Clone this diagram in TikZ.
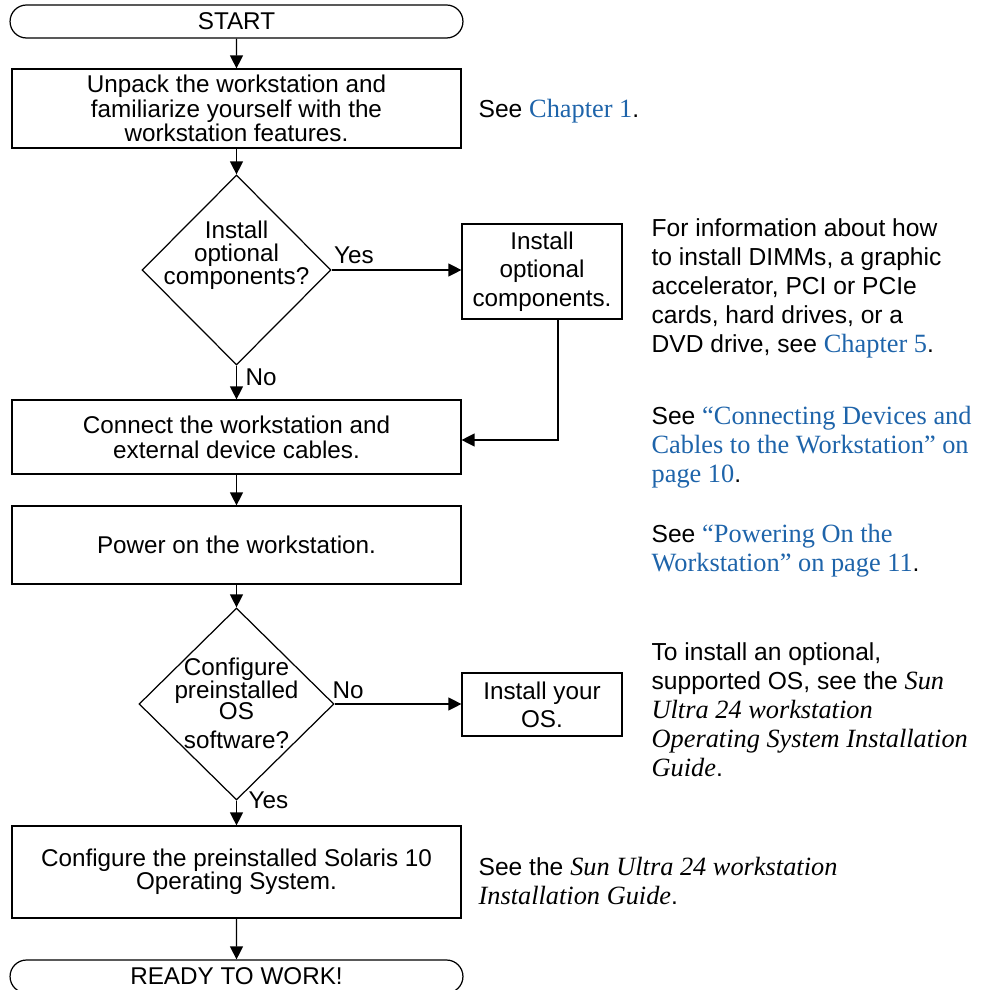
\documentclass[tikz,border=0pt]{standalone}
\usepackage{fontspec}
\setmainfont{Liberation Sans}
\newfontfamily\bookfont{Liberation Serif}
\usetikzlibrary{shapes.geometric,shapes.misc,arrows.meta}
\definecolor{linkblue}{RGB}{30,100,170}
\newcommand{\lnk}[1]{{\bookfont\fontsize{15}{16.5}\selectfont\color{linkblue}#1}}
\newcommand{\bk}[1]{{\bookfont\itshape\fontsize{15}{16.5}\selectfont #1}}
\begin{document}
\begin{tikzpicture}[x=0.02cm, y=-0.02cm, line width=0.7pt,
	>={Triangle[length=0.26cm,width=0.26cm]},
	every node/.style={inner sep=0pt, font=\fontsize{13.8}{13}\selectfont},
	term/.style={draw, rounded rectangle, minimum width=9.06cm, minimum height=0.66cm},
	stepbox/.style={draw, align=center, minimum width=8.98cm},
	sidebox/.style={draw, align=center, minimum width=3.2cm},
	quest/.style={draw, diamond},
	note/.style={align=left, anchor=base west, font=\fontsize{14}{16.5}\selectfont}]
	\useasboundingbox (0,0) rectangle (986,990);
	\node[term] (start) at (236.5,21.5) {START};
	\node[stepbox, minimum height=1.58cm, font=\fontsize{13.8}{12.2}\selectfont] (unpack) at (236.5,108.5) {Unpack the workstation and\\familiarize yourself with the\\workstation features.};
	\node[quest, minimum width=3.78cm, minimum height=3.8cm] (q1) at (236.5,270) {};
	\node[align=center] (q1txt) at (236.5,255) {Install\\optional\\components?};
	\node[sidebox, minimum height=1.9cm, font=\fontsize{13.8}{16.2}\selectfont] (opt) at (542,271.5) {Install\\optional\\components.};
	\node[stepbox, minimum height=1.48cm, font=\fontsize{13.8}{14.2}\selectfont] (cable) at (236.5,437) {Connect the workstation and\\external device cables.};
	\node[stepbox, minimum height=1.56cm] (power) at (236.5,545) {Power on the workstation.};
	\node[quest, minimum width=3.9cm, minimum height=3.84cm] (q2) at (236.5,704) {};
	\node[align=center] (q2txt) at (236.5,703.5) {Configure\\preinstalled\\[-1.2pt]OS\\[3.4pt]software?};
	\node[sidebox, minimum height=1.26cm, font=\fontsize{13.8}{16}\selectfont] (os) at (542,704.5) {Install your\\OS.};
	\node[stepbox, minimum height=1.84cm] (solaris) at (236.5,872) {Configure the preinstalled Solaris 10\\Operating System.};
	\node[term] (ready) at (236.5,976.5) {READY TO WORK!};
	\node (yes1) at (354,255) {Yes};
	\node[anchor=west] (no1) at (245,377) {No};
	\node (no2) at (348,690) {No};
	\node[anchor=west] (yes2) at (248,800) {Yes};
	\coordinate (back) at (558,440);
	\draw[->] (start) -- (unpack);
	\draw[->] (unpack) -- (q1);
	\draw[->] (q1.east) -- (q1.east -| opt.west);
	\draw[->] (q1) -- (cable);
	\draw[->] (opt.south -| back) -- (back) -- (cable.east |- back);
	\draw[->] (cable) -- (power);
	\draw[->] (power) -- (q2);
	\draw[->] (q2.east) -- (q2.east -| os.west);
	\draw[->] (q2) -- (solaris);
	\draw[->] (solaris) -- (ready);
	\node[note] (see1) at (478,117) {See \lnk{Chapter 1}.};
	\node[note] (seeopt) at (651,352) {For information about how\\to install DIMMs, a graphic\\accelerator, PCI or PCIe\\cards, hard drives, or a\\DVD drive, see \lnk{Chapter 5}.};
	\node[note] (seecab) at (651,482) {See \lnk{“Connecting Devices and}\\\lnk{Cables to the Workstation” on}\\\lnk{page 10}.};
	\node[note] (seepow) at (651,571) {See \lnk{“Powering On the}\\\lnk{Workstation” on page 11}.};
	\node[note] (seeos) at (651,776) {To install an optional,\\supported OS, see the \bk{Sun}\\\bk{Ultra 24 workstation}\\\bk{Operating System Installation}\\\bk{Guide}.};
	\node[note] (seesol) at (478,904) {See the \bk{Sun Ultra 24 workstation}\\\bk{Installation Guide}.};
\end{tikzpicture}
\end{document}
